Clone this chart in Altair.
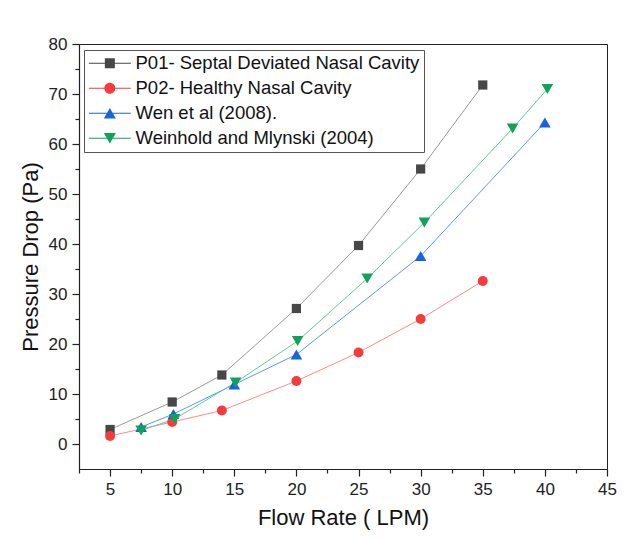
import altair as alt
import pandas as pd

series_names = [
    "P01- Septal Deviated Nasal Cavity",
    "P02- Healthy Nasal Cavity",
    "Wen et al (2008).",
    "Weinhold and Mlynski (2004)",
]
p01_x = [5, 10, 14, 20, 25, 30, 35]
p01_y = [2.9, 8.4, 13.8, 27.1, 39.7, 55.0, 71.8]
p02_x = [5, 10, 14, 20, 25, 30, 35]
p02_y = [1.6, 4.4, 6.7, 12.6, 18.3, 25.0, 32.6]
wen_x = [7.5, 10.1, 15, 20, 30, 40]
wen_y = [3.4, 6.0, 11.9, 17.9, 37.6, 64.3]
wei_x = [7.5, 10.2, 15.1, 20.1, 25.7, 30.3, 37.4, 40.2]
wei_y = [2.7, 5.0, 12.3, 20.6, 33.1, 44.3, 63.1, 71.0]

x_major = [5, 10, 15, 20, 25, 30, 35, 40, 45]
x_minor = [2.5, 7.5, 12.5, 17.5, 22.5, 27.5, 32.5, 37.5, 42.5]
y_major = [0, 10, 20, 30, 40, 50, 60, 70, 80]
y_minor = [5, 15, 25, 35, 45, 55, 65, 75]

marker_colors = ["#474747", "#f53b3b", "#1565e0", "#0fa35a"]
line_colors = ["#9a9a9a", "#ff8a8a", "#5b9be8", "#5ecb98"]
marker_shapes = ["square", "circle", "triangle-up", "triangle-down"]
marker_sizes = [85, 100, 135, 135]

# legend symbols: a line segment with the marker on it (unit = 6px)
legend_paths = [
    "M-1.4,-0.09H5.6V0.09H-1.4Z M1.267,-0.833H2.933V0.833H1.267Z",
    "M-1.4,-0.09H5.6V0.09H-1.4Z M3.017,0A0.917,0.917 0 1,1 1.183,0A0.917,0.917 0 1,1 3.017,0Z",
    "M-1.4,-0.09H5.6V0.09H-1.4Z M2.1,-0.87L3.1,0.87L1.1,0.87Z",
    "M-1.4,-0.09H5.6V0.09H-1.4Z M1.1,-0.87L3.1,-0.87L2.1,0.87Z",
]

rows = []
for name, xs_, ys_ in zip(series_names, [p01_x, p02_x, wen_x, wei_x], [p01_y, p02_y, wen_y, wei_y]):
    for xv, yv in zip(xs_, ys_):
        rows.append({"series": name, "x": xv, "y": yv})
df = pd.DataFrame(rows)

FONT = "Liberation Sans"
xs = alt.Scale(domain=[2.5, 45], nice=False, zero=False)
ys = alt.Scale(domain=[-5, 80], nice=False, zero=False)

major_x_axis = alt.Axis(
    values=x_major, orient="bottom", tickSize=7, labelPadding=5, labelFontSize=17,
    labelFlush=False,
    title="Flow Rate ( LPM)", titleFontSize=22, titlePadding=10, titleFontWeight="normal",
)
major_y_axis = alt.Axis(
    values=y_major, orient="left", tickSize=7, labelPadding=5, labelFontSize=17,
    labelFlush=False,
    title="Pressure Drop (Pa)", titleFontSize=22, titlePadding=6, titleFontWeight="normal",
)
minor_x_axis = alt.Axis(values=x_minor, orient="bottom", tickSize=4, labels=False, domain=False, title=None)
minor_y_axis = alt.Axis(values=y_minor, orient="left", tickSize=4, labels=False, domain=False, title=None)

base = alt.Chart(df)
layers = []
for i, name in enumerate(series_names):
    layers.append(
        base.transform_filter(alt.datum.series == name)
        .mark_line(color=line_colors[i], strokeWidth=1)
        .encode(
            x=alt.X("x:Q", scale=xs, axis=major_x_axis if i == 0 else None),
            y=alt.Y("y:Q", scale=ys, axis=major_y_axis if i == 0 else None),
        )
    )
for i, name in enumerate(series_names):
    layers.append(
        base.transform_filter(alt.datum.series == name)
        .mark_point(shape=marker_shapes[i], filled=True, size=marker_sizes[i],
                    color=marker_colors[i], opacity=1)
        .encode(
            x=alt.X("x:Q", scale=xs, axis=None),
            y=alt.Y("y:Q", scale=ys, axis=None),
        )
    )

leg = alt.Legend(
    orient="none", legendX=5, legendY=6, title=None,
    labelFontSize=18.5, labelFont=FONT, labelColor="#111", labelLimit=500,
    symbolSize=144, symbolStrokeWidth=0, symbolOpacity=1, labelOffset=29,
    padding=4, rowPadding=6, strokeColor="#555", fillColor="white",
)
legend_layer = base.mark_point(filled=True, opacity=0).encode(
    x=alt.X("x:Q", scale=xs, axis=minor_x_axis),
    y=alt.Y("y:Q", scale=ys, axis=minor_y_axis),
    color=alt.Color("series:N", scale=alt.Scale(domain=series_names, range=marker_colors), legend=leg),
    shape=alt.Shape("series:N", scale=alt.Scale(domain=series_names, range=legend_paths), legend=leg),
)
layers.append(legend_layer)

chart = (
    alt.layer(*layers)
    .resolve_axis(x="independent", y="independent")
    .properties(
        width=528, height=425,
        autosize=alt.AutoSizeParams(type="none"),
        padding={"left": 71, "top": 36, "right": 10, "bottom": 62},
        background="white",
    )
    .configure_view(stroke="#222", strokeWidth=1)
    .configure_axis(
        grid=False, domainColor="#222", tickColor="#222", labelColor="#222", titleColor="#111",
        labelFont=FONT, titleFont=FONT, domainWidth=1.2, tickWidth=1.2,
    )
)
chart.save("out.html", embed_options={"renderer": "svg", "actions": False})
